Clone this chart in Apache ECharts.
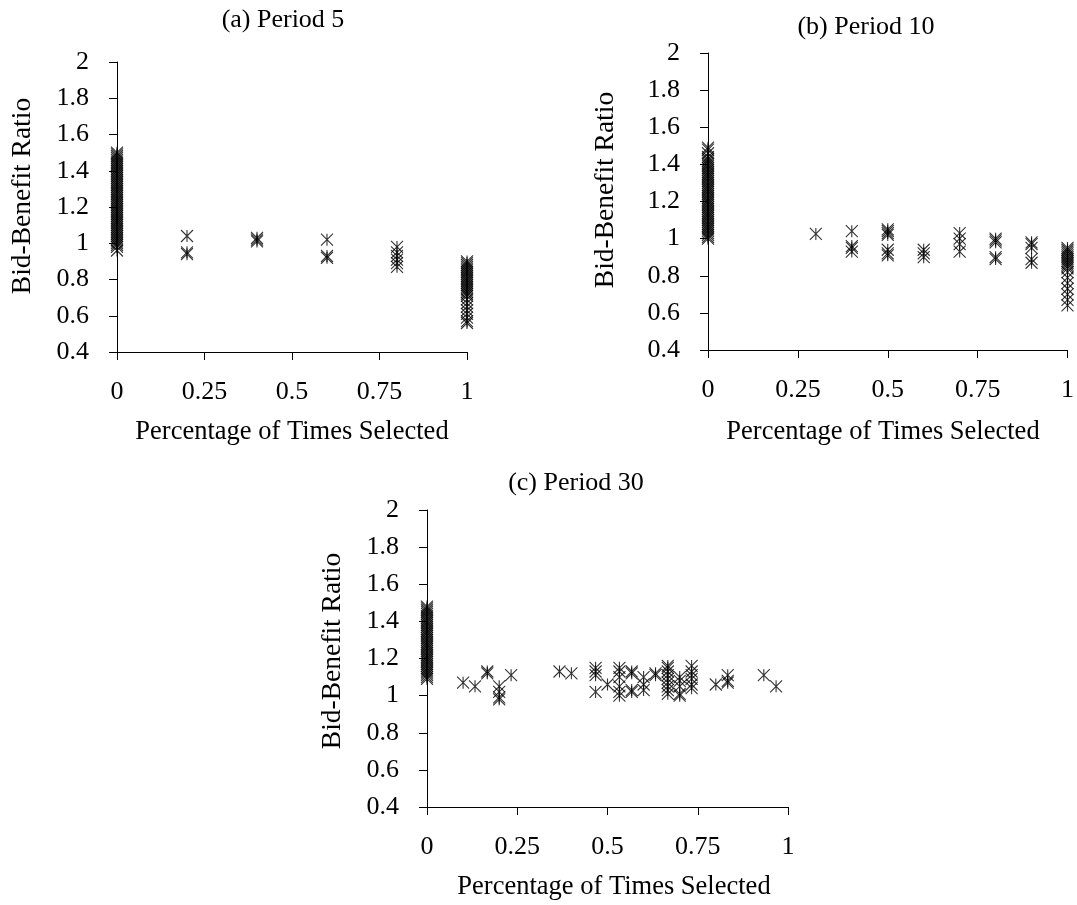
<!DOCTYPE html>
<html>
<head>
<meta charset="utf-8">
<script src="https://cdn.jsdelivr.net/npm/echarts@6/dist/echarts.min.js"></script>
<style>
  html, body { margin: 0; padding: 0; background: #fff; }
  #chart { width: 1077px; height: 905px; }
</style>
</head>
<body>
<div id="chart"></div>
<script>
// tick values
const xTicks = [0, 0.25, 0.5, 0.75, 1];
const yTicks = [0.4, 0.6, 0.8, 1, 1.2, 1.4, 1.6, 1.8, 2];

// (a) Period 5 : share selected -> bid-benefit ratios
const p5Share = [0, 0.2, 0.4, 0.6, 0.8, 1];
const p5Ratio = [
    [0.96, 0.98, 0.99, 1.0, 1.01, 1.02, 1.03, 1.04, 1.05, 1.06, 1.07, 1.08, 1.09, 1.1, 1.11, 1.12, 1.13,
     1.14, 1.15, 1.16, 1.17, 1.18, 1.19, 1.2, 1.21, 1.22, 1.23, 1.24, 1.25, 1.26, 1.27, 1.28, 1.29, 1.3,
     1.31, 1.32, 1.33, 1.34, 1.35, 1.36, 1.37, 1.38, 1.39, 1.4, 1.41, 1.42, 1.43, 1.44, 1.45, 1.46,
     1.47, 1.48, 1.49, 1.5],
    [1.04, 0.95, 0.94],
    [1.03, 1.02, 1.01],
    [1.02, 0.93, 0.92],
    [0.98, 0.95, 0.93, 0.91, 0.89, 0.87],
    [0.56, 0.57, 0.59, 0.61, 0.63, 0.65, 0.67, 0.69, 0.71, 0.72, 0.73, 0.74, 0.75, 0.76, 0.77, 0.78,
     0.79, 0.8, 0.81, 0.82, 0.83, 0.84, 0.85, 0.86, 0.87, 0.88, 0.89, 0.9]
];

// (b) Period 10
const p10Share = [0, 0.3, 0.4, 0.5, 0.6, 0.7, 0.8, 0.9, 1];
const p10Ratio = [
    [1.0, 1.01, 1.02, 1.03, 1.04, 1.05, 1.06, 1.07, 1.08, 1.09, 1.1, 1.11, 1.12, 1.13, 1.14, 1.15,
     1.16, 1.17, 1.18, 1.19, 1.2, 1.21, 1.22, 1.23, 1.24, 1.25, 1.26, 1.27, 1.28, 1.29, 1.3, 1.31,
     1.32, 1.33, 1.34, 1.35, 1.36, 1.37, 1.38, 1.39, 1.4, 1.41, 1.42, 1.43, 1.44, 1.46, 1.48, 1.49],
    [1.025],
    [1.04, 0.96, 0.95, 0.93],
    [1.05, 1.04, 1.03, 1.02, 0.94, 0.92, 0.91],
    [0.94, 0.92, 0.9],
    [1.03, 1.0, 0.97, 0.93],
    [1.0, 0.99, 0.98, 0.9, 0.89],
    [0.98, 0.97, 0.95, 0.89, 0.87],
    [0.64, 0.67, 0.7, 0.73, 0.76, 0.79, 0.82, 0.84, 0.85, 0.86, 0.87, 0.88, 0.89, 0.9, 0.91, 0.92,
     0.93, 0.94, 0.95]
];

// (c) Period 30
const p30Share = [0, 0.1, 0.133, 0.167, 0.2, 0.233, 0.367, 0.4, 0.467, 0.5, 0.533, 0.567, 0.6,
    0.633, 0.667, 0.7, 0.733, 0.8, 0.833, 0.933, 0.967];
const p30Ratio = [
    [1.09, 1.1, 1.11, 1.12, 1.13, 1.14, 1.15, 1.16, 1.17, 1.18, 1.19, 1.2, 1.21, 1.22, 1.23, 1.24,
     1.25, 1.26, 1.27, 1.28, 1.29, 1.3, 1.31, 1.32, 1.33, 1.34, 1.35, 1.36, 1.37, 1.38, 1.39, 1.4,
     1.41, 1.42, 1.43, 1.44, 1.45, 1.46, 1.47, 1.48],
    [1.07],
    [1.05],
    [1.13, 1.12],
    [1.05, 1.02, 0.99, 0.98],
    [1.11],
    [1.13],
    [1.12],
    [1.15, 1.13, 1.11, 1.02],
    [1.06],
    [1.15, 1.13, 1.1, 1.05, 1.02, 1.0],
    [1.13, 1.12, 1.03, 1.02],
    [1.1, 1.06, 1.03],
    [1.12, 1.11],
    [1.16, 1.15, 1.13, 1.11, 1.09, 1.07, 1.05, 1.03, 1.01],
    [1.1, 1.08, 1.05, 1.01, 1.0],
    [1.16, 1.13, 1.11, 1.09, 1.06, 1.04],
    [1.06],
    [1.11, 1.08, 1.07],
    [1.11],
    [1.05]
];

const FONT = '"Liberation Serif", "Times New Roman", serif';
const FS = 26;
const STAR = 'path://M0 0L10 10M10 0L0 10M5 0L5 10';

function toPoints(shares, ratios) {
    const pts = [];
    shares.forEach(function (s, i) {
        ratios[i].forEach(function (r) { pts.push([s, r]); });
    });
    return pts;
}

const grids = [
    { left: 117, top: 62, width: 350, height: 290 },
    { left: 708, top: 53, width: 361, height: 297 },
    { left: 427, top: 510, width: 361, height: 297 }
];

function xAxisFor(i) {
    return {
        gridIndex: i, type: 'value',
        min: xTicks[0], max: xTicks[xTicks.length - 1], interval: xTicks[1] - xTicks[0],
        axisLine: { lineStyle: { color: '#000', width: 1 } },
        axisTick: { inside: false, length: 8, lineStyle: { color: '#000' } },
        axisLabel: { color: '#000', fontFamily: FONT, fontSize: FS, margin: 27 },
        splitLine: { show: false }
    };
}
function yAxisFor(i) {
    return {
        gridIndex: i, type: 'value',
        min: yTicks[0], max: yTicks[yTicks.length - 1], interval: 0.2,
        axisLine: { show: true, lineStyle: { color: '#000', width: 1 } },
        axisTick: { show: true, inside: false, length: 8, lineStyle: { color: '#000' } },
        axisLabel: { color: '#000', fontFamily: FONT, fontSize: FS, margin: 28 },
        splitLine: { show: false }
    };
}
function seriesFor(i, data) {
    return {
        type: 'scatter', xAxisIndex: i, yAxisIndex: i, data: data,
        symbol: STAR, symbolSize: 12,
        itemStyle: { color: 'rgba(0,0,0,0)', borderColor: '#000', borderWidth: 1.1 },
        emphasis: { disabled: true },
        animation: false
    };
}
function label(x, y, text, rotate, size) {
    return {
        type: 'text', x: x, y: y, rotation: rotate ? Math.PI / 2 : 0,
        style: { text: text, font: (size || FS) + 'px ' + FONT, fill: '#000',
                 textAlign: 'center', textVerticalAlign: 'middle' }
    };
}

const chart = echarts.init(document.getElementById('chart'));
chart.setOption({
    backgroundColor: '#fff',
    animation: false,
    grid: grids,
    xAxis: [xAxisFor(0), xAxisFor(1), xAxisFor(2)],
    yAxis: [yAxisFor(0), yAxisFor(1), yAxisFor(2)],
    series: [
        seriesFor(0, toPoints(p5Share, p5Ratio)),
        seriesFor(1, toPoints(p10Share, p10Ratio)),
        seriesFor(2, toPoints(p30Share, p30Ratio))
    ],
    graphic: [
        label(283, 20, '(a) Period 5'),
        label(866, 27, '(b) Period 10'),
        label(576, 483, '(c) Period 30'),
        label(23, 196, 'Bid-Benefit Ratio', true, 27.5),
        label(606, 190, 'Bid-Benefit Ratio', true, 27.5),
        label(333, 651, 'Bid-Benefit Ratio', true, 27.5),
        label(292, 432, 'Percentage of Times Selected', false, 26.5),
        label(883, 432, 'Percentage of Times Selected', false, 26.5),
        label(614, 887, 'Percentage of Times Selected', false, 26.5)
    ]
});
window.addEventListener('resize', function () { chart.resize(); });
</script>
</body>
</html>
